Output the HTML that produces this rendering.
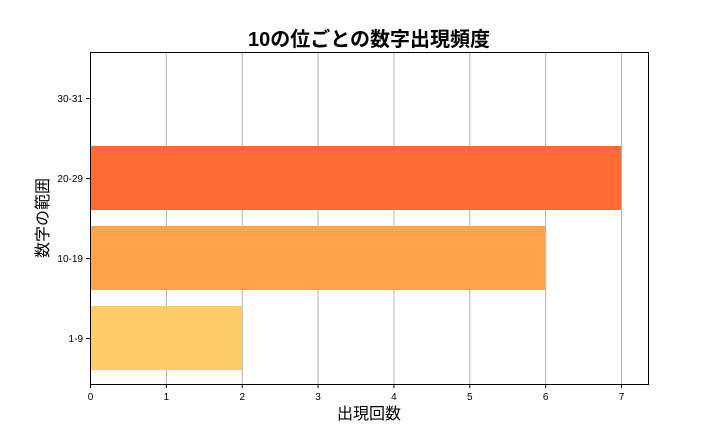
<!DOCTYPE html>
<html><head><meta charset="utf-8"><style>
body{margin:0;background:#fff;}
svg text{font-family:"Liberation Sans","Noto Sans CJK JP",sans-serif;}
</style></head><body>
<svg width="720" height="432">
<g id="grid"></g>
<g id="bars"></g>
<rect x="90.5" y="52.5" width="558" height="332" fill="none" stroke="#000" stroke-width="1"/>
<g id="xt"></g>
<g id="yt"></g>
<text x="369" y="46" text-anchor="middle" font-size="20" font-weight="bold">10の位ごとの数字出現頻度</text>
<text x="369" y="419" text-anchor="middle" font-size="16">出現回数</text>
<text transform="translate(48,218) rotate(-90)" text-anchor="middle" font-size="16">数字の範囲</text>
</svg>
<script>
const categories=["1-9","10-19","20-29","30-31"];
const values=[2,6,7,0];
const colors=["#fecb69","#fea349","#fe6a33","#fe3a22"];
const xTicks=[0,1,2,3,4,5,6,7];
const ns="http://www.w3.org/2000/svg";
const X0=90,PX=75.86,Ytop=52,Ybot=384;
const band=(Ybot-Ytop)/categories.length*0.964;
function xs(v){return X0+v*PX;}
function yc(i){return 338-i*80;}
function mk(t,a,p){const e=document.createElementNS(ns,t);for(const k in a)e.setAttribute(k,a[k]);p.appendChild(e);return e;}
const grid=document.getElementById('grid'),bars=document.getElementById('bars'),xt=document.getElementById('xt'),yt=document.getElementById('yt');
xTicks.forEach(t=>{
 const x=xs(t)+0.5;
 const g=mk('line',{x1:x,x2:x,y1:Ytop,y2:Ybot,stroke:'#b0b0b0','stroke-width':1},grid);
 
 
 const tk=mk('line',{x1:x,x2:x,y1:Ybot,y2:Ybot+4,stroke:'#000'},xt);
 
 
 const tx=mk('text',{x:x,y:Ybot+16,'text-anchor':'middle','font-size':10},xt);
 tx.textContent=t;
 
 
});
categories.forEach((c,i)=>{
 const y=yc(i);
 const r=mk('rect',{x:X0,y:y-32,width:xs(values[i])-X0,height:64,fill:colors[i]},bars);
 
 
 const tk=mk('line',{x1:X0-4,x2:X0,y1:y+0.5,y2:y+0.5,stroke:'#000'},yt);
 
 
 const tx=mk('text',{x:X0-7,y:y+4,'text-anchor':'end','font-size':10},yt);
 tx.textContent=c;
 
 
});
</script>
</body></html>
